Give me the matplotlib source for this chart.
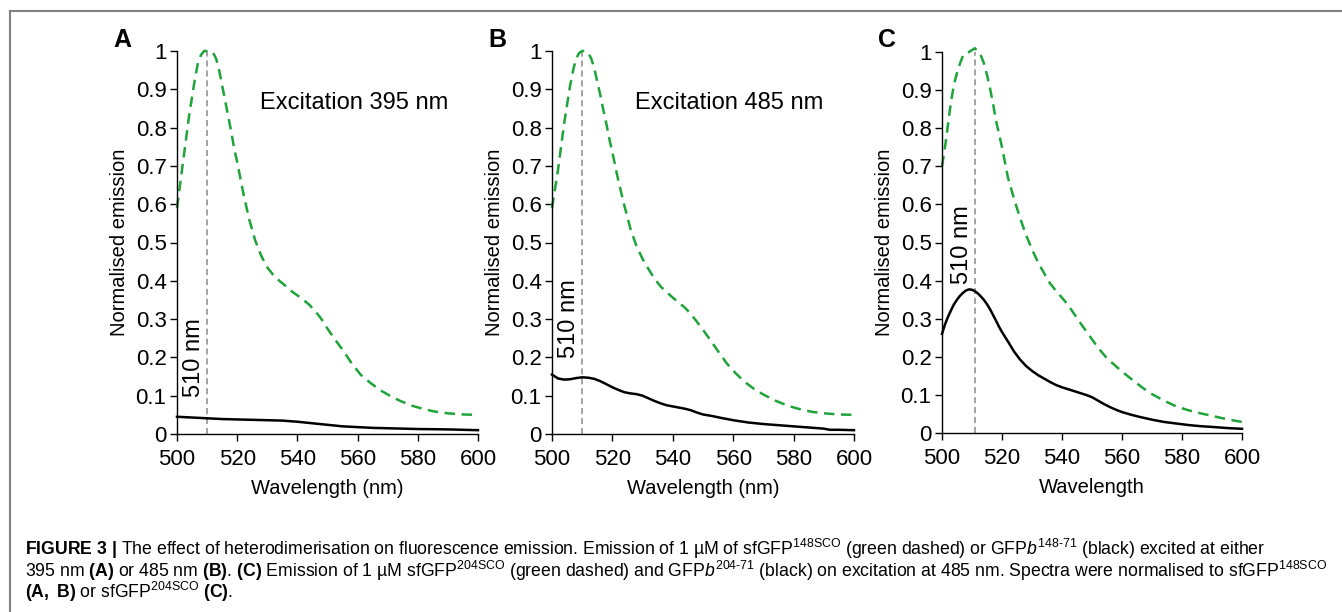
import matplotlib
matplotlib.use("Agg")
import matplotlib.pyplot as plt
from matplotlib.lines import Line2D

plt.rcParams['font.family'] = ['Liberation Sans', 'DejaVu Sans']
plt.rcParams['mathtext.fontset'] = 'custom'
plt.rcParams['mathtext.rm'] = 'Liberation Sans'
plt.rcParams['mathtext.it'] = 'Liberation Sans:italic'
plt.rcParams['mathtext.bf'] = 'Liberation Sans:bold'

# ---- data ----
green_nm = [500, 501, 502, 503, 504, 505, 506, 507, 508, 509, 510, 511, 512, 513, 514,
            515, 516, 517, 518, 519, 520, 522, 524, 526, 528, 530, 532, 534, 536, 538,
            540, 542, 544, 546, 548, 550, 552, 555, 558, 561, 564, 567, 570, 574, 578,
            582, 586, 590, 595, 600]
a_green = [0.59, 0.65, 0.71, 0.77, 0.83, 0.88, 0.93, 0.97, 0.99, 1.0, 1.0, 1.0, 0.995, 0.98, 0.95,
           0.91, 0.87, 0.83, 0.79, 0.745, 0.71, 0.63, 0.56, 0.505, 0.465, 0.435, 0.415, 0.40, 0.387, 0.373,
           0.362, 0.35, 0.337, 0.32, 0.30, 0.275, 0.252, 0.22, 0.185, 0.155, 0.135, 0.117, 0.103, 0.087, 0.074,
           0.065, 0.058, 0.054, 0.051, 0.05]
b_green = [0.59, 0.64, 0.69, 0.75, 0.81, 0.86, 0.91, 0.95, 0.98, 0.995, 1.0, 1.0, 0.995, 0.98, 0.955,
           0.92, 0.885, 0.846, 0.81, 0.77, 0.735, 0.66, 0.595, 0.535, 0.49, 0.457, 0.43, 0.405, 0.385, 0.37,
           0.356, 0.343, 0.33, 0.313, 0.293, 0.272, 0.25, 0.216, 0.183, 0.157, 0.135, 0.117, 0.103, 0.087, 0.074,
           0.065, 0.058, 0.054, 0.051, 0.05]
c_green = [0.70, 0.75, 0.81, 0.87, 0.915, 0.945, 0.97, 0.99, 0.998, 1.0, 1.005, 1.01, 1.0, 0.99, 0.97,
           0.94, 0.905, 0.865, 0.82, 0.785, 0.75, 0.67, 0.615, 0.565, 0.52, 0.482, 0.448, 0.42, 0.393, 0.373,
           0.355, 0.336, 0.313, 0.29, 0.268, 0.246, 0.224, 0.196, 0.175, 0.155, 0.136, 0.118, 0.102, 0.085, 0.07,
           0.06, 0.052, 0.045, 0.036, 0.029]

a_black_nm = [500, 505, 510, 515, 520, 525, 530, 535, 540, 545, 550, 555, 560, 565, 570, 580, 590, 600]
a_black = [0.045, 0.043, 0.041, 0.039, 0.038, 0.037, 0.036, 0.035, 0.032, 0.028, 0.024, 0.02,
           0.018, 0.016, 0.015, 0.013, 0.012, 0.01]

b_black_nm = [500, 501, 502, 504, 506, 508, 510, 512, 514, 516, 518, 520, 522, 524, 526, 528, 530,
              532, 534, 536, 538, 540, 542, 544, 546, 548, 550, 553, 556, 560, 565, 570, 575, 580,
              585, 590, 592, 595, 600]
b_black = [0.155, 0.15, 0.145, 0.142, 0.143, 0.146, 0.148, 0.147, 0.144, 0.138, 0.13, 0.122, 0.115,
           0.109, 0.106, 0.104, 0.1, 0.093, 0.086, 0.08, 0.075, 0.072, 0.069, 0.066, 0.062, 0.056,
           0.051, 0.047, 0.042, 0.036, 0.03, 0.026, 0.023, 0.02, 0.017, 0.014, 0.011, 0.011, 0.01]

c_black_nm = [500, 501, 502, 503, 504, 505, 506, 507, 508, 509, 510, 511, 512, 513, 514, 515, 516,
              517, 518, 519, 520, 522, 524, 526, 528, 530, 532, 534, 536, 538, 540, 542, 544, 546,
              548, 550, 552, 554, 556, 558, 560, 563, 566, 570, 574, 578, 582, 586, 590, 595, 600]
c_black = [0.26, 0.285, 0.305, 0.322, 0.338, 0.35, 0.36, 0.368, 0.374, 0.377, 0.376, 0.372, 0.366,
           0.358, 0.349, 0.338, 0.325, 0.31, 0.295, 0.279, 0.265, 0.24, 0.214, 0.193, 0.176, 0.163,
           0.152, 0.143, 0.134, 0.126, 0.12, 0.115, 0.11, 0.105, 0.1, 0.094, 0.085, 0.076, 0.068,
           0.061, 0.055, 0.048, 0.042, 0.035, 0.029, 0.025, 0.021, 0.018, 0.016, 0.013, 0.011]

panels = ['A', 'B', 'C']
peak_nm = [510, 510, 511]
excitation = ['Excitation 395 nm', 'Excitation 485 nm', None]
xlabels = ['Wavelength (nm)', 'Wavelength (nm)', 'Wavelength']
label_y = [0.2, 0.3, 0.495]
yticks = [0, 0.1, 0.2, 0.3, 0.4, 0.5, 0.6, 0.7, 0.8, 0.9, 1]
xticks = [500, 520, 540, 560, 580, 600]

GREEN = '#1fa43a'

fig = plt.figure(figsize=(13.42, 6.12), dpi=100)
W, H = 1342, 612
boxes = [(177, 478, 51, 434), (552, 854, 51, 434), (942, 1242, 52, 433)]

series = [(green_nm, a_green, a_black_nm, a_black),
          (green_nm, b_green, b_black_nm, b_black),
          (green_nm, c_green, c_black_nm, c_black)]

for i, (x0, x1, yt, yb) in enumerate(boxes):
    ax = fig.add_axes([x0 / W, 1 - yb / H, (x1 - x0) / W, (yb - yt) / H])
    gx, gy, kx, ky = series[i]
    ax.plot([peak_nm[i], peak_nm[i]], [0, 1], color='#8a8a8a', lw=1.1,
            dashes=(4, 2.5), clip_on=False, zorder=1)
    ax.plot(gx, gy, color=GREEN, lw=1.8, dashes=(4.2, 2.6), clip_on=False, zorder=2)
    ax.plot(kx, ky, color='black', lw=1.8, clip_on=False, zorder=3)

    ax.set_xlim(500, 600)
    ax.set_ylim(0, 1)
    ax.set_xticks(xticks)
    ax.set_yticks(yticks)
    ax.set_yticklabels([f'{v:g}' for v in yticks])
    for s in ['top', 'right']:
        ax.spines[s].set_visible(False)
    for s in ['left', 'bottom']:
        ax.spines[s].set_linewidth(1.0)
    ax.tick_params(axis='both', direction='out', length=5, width=1, labelsize=16, pad=2.5)
    ax.tick_params(axis='x', pad=6)
    ax.set_ylabel('Normalised emission', fontsize=14.5, labelpad=5)
    ax.set_xlabel(xlabels[i], fontsize=14.5, labelpad=6)

    ax.text(peak_nm[i] - 4.3, label_y[i], '510 nm', rotation=90, fontsize=17,
            ha='center', va='center')
    if excitation[i]:
        ax.text(527.5, 0.865, excitation[i], fontsize=17, ha='left', va='center')

    fig.text((x0 - 55) / W, 1 - 40 / H, panels[i], fontsize=18, fontweight='bold',
             ha='center', va='center')

# frame lines
fig.add_artist(Line2D([9.5 / W, 1], [1 - 10.5 / H, 1 - 10.5 / H], transform=fig.transFigure,
                      color='#808080', lw=1.5))
fig.add_artist(Line2D([9.5 / W, 9.5 / W], [0, 1 - 10.5 / H], transform=fig.transFigure,
                      color='#808080', lw=1.5))

caption = [
    r'$\mathbf{FIGURE\ 3\ |}$ The effect of heterodimerisation on fluorescence emission. '
    r'Emission of 1 µM of sfGFP$^{\text{148SCO}}$ (green dashed) or GFP$\mathit{b}^{\text{148-71}}$ '
    r'(black) excited at either',
    r'395 nm $\mathbf{(A)}$ or 485 nm $\mathbf{(B)}$. $\mathbf{(C)}$ Emission of 1 µM '
    r'sfGFP$^{\text{204SCO}}$ (green dashed) and GFP$\mathit{b}^{\text{204-71}}$ (black) on '
    r'excitation at 485 nm. Spectra were normalised to sfGFP$^{\text{148SCO}}$',
    r'$\mathbf{(A,\ B)}$ or sfGFP$^{\text{204SCO}}$ $\mathbf{(C)}$.',
]
for j, line in enumerate(caption):
    fig.text(25 / W, 1 - (549 + j * 21.5) / H, line, fontsize=12.7, ha='left', va='center')

fig.savefig('out.png', dpi=100)
